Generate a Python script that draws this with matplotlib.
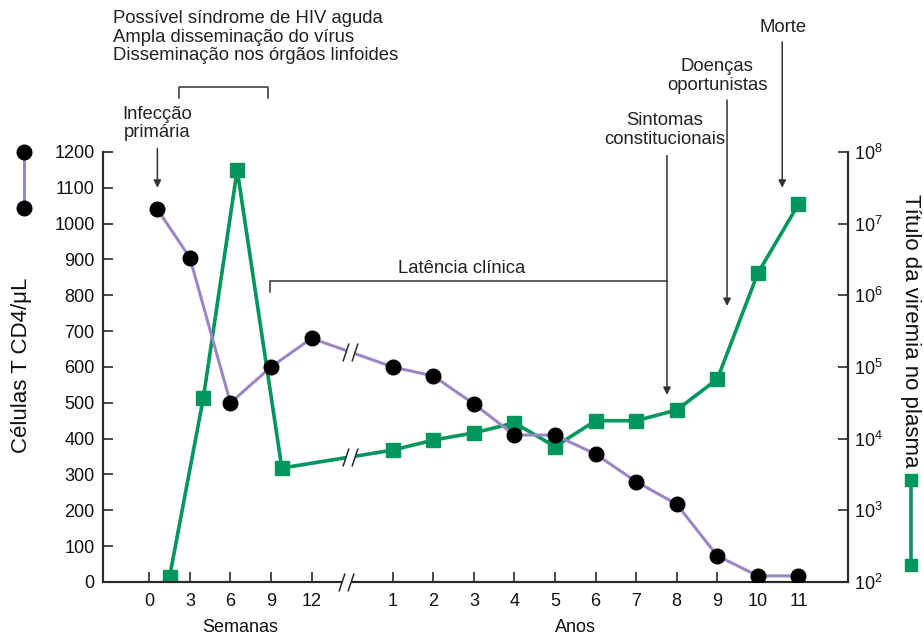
import numpy as np
import matplotlib
matplotlib.use('Agg')
import matplotlib.pyplot as plt
from matplotlib.path import Path
from matplotlib.lines import Line2D

plt.rcParams['font.family'] = ['Liberation Sans', 'DejaVu Sans']
plt.rcParams['font.size'] = 13

# Data
# CD4 T cells (cells/uL)
cd4_weeks = [0.6, 3, 6, 9, 12]
cd4_weeks_vals = [1040, 905, 500, 600, 680]
cd4_years = [1, 2, 3, 4, 5, 6, 7, 8, 9, 10, 11]
cd4_years_vals = [600, 575, 497, 410, 410, 357, 280, 217, 73, 17, 17]

# plasma viremia (log10 titre)
vir_weeks = [1.5, 4, 6.5, 9.8]
vir_weeks_log = [2.07, 4.57, 7.75, 3.59]
vir_years = [1, 2, 3, 4, 5, 6, 7, 8, 9, 10, 11]
vir_years_log = [3.84, 3.98, 4.08, 4.22, 3.89, 4.25, 4.25, 4.40, 4.83, 6.31, 7.27]

week_ticks = [0, 3, 6, 9, 12]
year_ticks = [1, 2, 3, 4, 5, 6, 7, 8, 9, 10, 11]
y_ticks = list(range(0, 1300, 100))
log_ticks = [1e2, 1e3, 1e4, 1e5, 1e6, 1e7, 1e8]

purple = '#9b87c3'
green = '#00965e'
dark = '#2a2a2a'


def wpos(w):
    # weeks part of the axis: one unit every 3 weeks
    return np.asarray(w, dtype=float) / 3.0


def ypos(y):
    # years part starts after the break
    return np.asarray(y, dtype=float) + 5.0


BREAK_X = 4.85

cd4_x = np.concatenate([wpos(cd4_weeks), ypos(cd4_years)])
cd4_y = np.array(cd4_weeks_vals + cd4_years_vals, dtype=float)
vir_x = np.concatenate([wpos(vir_weeks), ypos(vir_years)])
vir_y = 10 ** np.array(vir_weeks_log + vir_years_log)

fig = plt.figure(figsize=(9.24, 6.38), dpi=100)
ax = fig.add_axes([0.1115, 0.0878, 0.8062, 0.674])
ax2 = ax.twinx()
ax.set_zorder(ax2.get_zorder() + 1)
ax.patch.set_visible(False)

ax2.plot(vir_x, vir_y, color=green, lw=2.6, marker='s', ms=9.5,
         mfc=green, mec=green, zorder=3)
ax.plot(cd4_x, cd4_y, color=purple, lw=2.2, marker='o', ms=10.5,
        mfc='black', mec='black', zorder=3)

ax.set_xlim(-1.14, 17.22)
ax.set_ylim(0, 1200)
ax2.set_yscale('log')
ax2.set_ylim(1e2, 1e8)

ax.set_yticks(y_ticks)
ax2.set_yticks(log_ticks)
ax2.minorticks_off()
ax.set_xticks(list(wpos(week_ticks)) + list(ypos(year_ticks)))
ax.set_xticklabels([str(t) for t in week_ticks] + [str(t) for t in year_ticks])

for a in (ax, ax2):
    a.spines['top'].set_visible(False)
    for s in ('left', 'right', 'bottom'):
        a.spines[s].set_color(dark)
        a.spines[s].set_linewidth(1.5)
    a.tick_params(direction='in', length=7, width=1.2, color=dark,
                  labelsize=13, labelcolor='#111')
ax.tick_params(axis='x', pad=8)
ax.tick_params(axis='y', pad=6)
ax2.tick_params(axis='y', pad=4)

# break markers (white gap + two slashes)
fill_path = Path([(-0.75, -0.9), (0.15, -0.9), (0.75, 0.9), (-0.15, 0.9), (-0.75, -0.9)],
                 [Path.MOVETO, Path.LINETO, Path.LINETO, Path.LINETO, Path.CLOSEPOLY])
slash_path = Path([(-0.75, -0.9), (-0.15, 0.9), (0.15, -0.9), (0.75, 0.9)],
                  [Path.MOVETO, Path.LINETO, Path.MOVETO, Path.LINETO])


def draw_break(a, x, y):
    a.plot([x], [y], marker=fill_path, ms=13, mfc='white', mec='white',
           mew=0, ls='none', zorder=5, clip_on=False)
    a.plot([x], [y], marker=slash_path, ms=13, mfc='none', mec=dark,
           mew=1.1, ls='none', zorder=6, clip_on=False)


bx_line = 4.95
draw_break(ax, bx_line, np.interp(bx_line, cd4_x, cd4_y))
draw_break(ax2, bx_line, 10 ** np.interp(bx_line, vir_x, np.log10(vir_y)))
draw_break(ax, BREAK_X, 0)

# axis titles
fig.text(22 / 924, 1 - 365 / 638, 'Células T CD4/μL', rotation=90,
         ha='center', va='center', fontsize=16, color='#111')
fig.text(911 / 924, 1 - 331 / 638, 'Título da viremia no plasma', rotation=-90,
         ha='center', va='center', fontsize=16, color='#111')

trans_x = ax.get_xaxis_transform()
ax.text(2.24, -0.105, 'Semanas', transform=trans_x, ha='center', va='center',
        fontsize=13, color='#111')
ax.text(10.5, -0.105, 'Anos', transform=trans_x, ha='center', va='center',
        fontsize=13, color='#111')

# legend keys beside the axes
fig.add_artist(Line2D([0.026, 0.026], [0.762, 0.674], color=purple, lw=2.2,
                      marker='o', ms=10.5, mfc='black', mec='black'))
fig.add_artist(Line2D([0.986, 0.986], [0.248, 0.114], color=green, lw=2.6,
                      marker='s', ms=9, mfc=green, mec=green))

# annotations (y in left-axis units, beyond the top of the axes)
arrow = dict(arrowstyle='-|>', lw=1.1, color='#333', mutation_scale=11,
             shrinkA=0, shrinkB=0)
fs = 13.3

ax.text(-0.895, 1596, 'Possível síndrome de HIV aguda\nAmpla disseminação do vírus\n'
        'Disseminação nos órgãos linfoides', ha='left', va='top',
        fontsize=fs, color='#222', linespacing=1.12, clip_on=False)
ax.plot([0.735, 0.735, 2.93, 2.93], [1350, 1381, 1381, 1350], color='#333',
        lw=1.1, clip_on=False)

ax.text(cd4_x[0], 1280, 'Infecção\nprimária', ha='center', va='center',
        fontsize=fs, color='#222', linespacing=1.1, clip_on=False)
ax.annotate('', xy=(cd4_x[0], 1100), xytext=(cd4_x[0], 1210),
            arrowprops=arrow, annotation_clip=False)

ax.text(7.71, 876, 'Latência clínica', ha='center', va='center',
        fontsize=fs, color='#222')
ax.plot([2.98, 2.98, 12.76], [809, 840, 840], color='#333', lw=1.1)

ax.text(12.71, 1261, 'Sintomas\nconstitucionais', ha='center', va='center',
        fontsize=fs, color='#222', linespacing=1.1, clip_on=False)
ax.annotate('', xy=(12.76, 522), xytext=(12.76, 1190), arrowprops=arrow,
            annotation_clip=False)

ax.text(14.0, 1412, 'Doenças\noportunistas', ha='center', va='center',
        fontsize=fs, color='#222', linespacing=1.1, clip_on=False)
ax.annotate('', xy=(14.24, 770), xytext=(14.24, 1345), arrowprops=arrow,
            annotation_clip=False)

ax.text(15.62, 1546, 'Morte', ha='center', va='center',
        fontsize=fs, color='#222', clip_on=False)
ax.annotate('', xy=(15.6, 1100), xytext=(15.6, 1507), arrowprops=arrow,
            annotation_clip=False)

fig.savefig('out.png', dpi=100)
